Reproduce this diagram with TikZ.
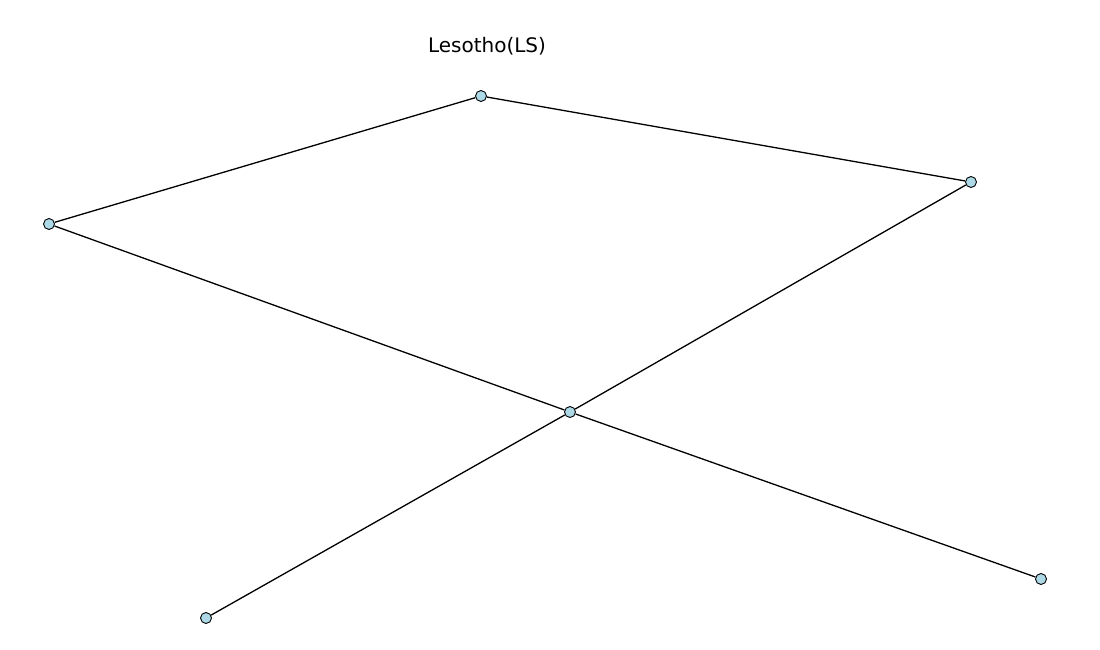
\documentclass[tikz,border=0pt]{standalone}
\usepackage{fontspec}
\setmainfont{DejaVu Sans}
\begin{document}
\begin{tikzpicture}[x=1pt,y=-1pt]
\tikzset{knoten/.style={circle,draw=black,fill=lightblue,line width=0.9pt,inner sep=0pt,minimum size=11pt}}
\definecolor{lightblue}{HTML}{ADD8E6}
\useasboundingbox (0,0) rectangle (1100,650);
\node [font=\fontsize{20}{24}\selectfont] (titel) at (487,46) {Lesotho(LS)};
\node [knoten] (a) at (481,96) {};
\node [knoten] (b) at (971,182) {};
\node [knoten] (c) at (49,224) {};
\node [knoten] (d) at (570,412) {};
\node [knoten] (e) at (206,618) {};
\node [knoten] (f) at (1041,579) {};
\begin{scope}[line width=1.3pt]
\draw[-] (c) to (a);
\draw[-] (a) to (b);
\draw[-] (b) to (d);
\draw[-] (d) to (e);
\draw[-] (c) to (d);
\draw[-] (d) to (f);
\end{scope}
\end{tikzpicture}
\end{document}
